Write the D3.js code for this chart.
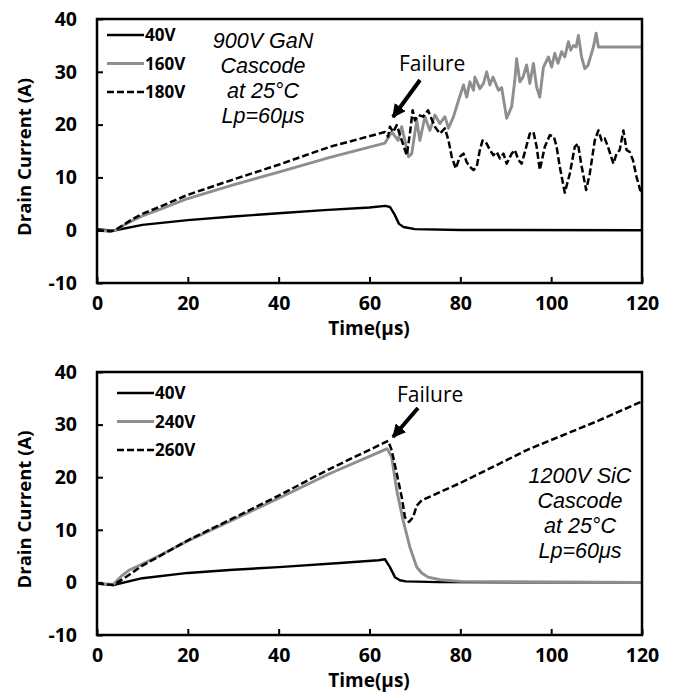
<!DOCTYPE html>
<html>
<head>
<meta charset="utf-8">
<script src="https://cdn.jsdelivr.net/npm/d3@7"></script>
<style>
  body { margin: 0; background: #fff; }
  svg { display: block; }
</style>
</head>
<body>
<div id="canvas"></div>
<script>
// time (µs) / drain current (A) pairs
const gan40V = [[0,0.2],[3.5,-0.1],[10,1.0],[20,1.9],[30,2.6],[40,3.2],[50,3.8],[60,4.3],[63.5,4.6],
  [64.5,4.4],[65.5,3.0],[66.5,1.2],[67.5,0.6],[70,0.2],[80,0.05],[120,0]];
const gan160V = [[0,0],[3,-0.2],[4,0],[6,1.0],[8,1.9],[10,2.7],[14,4.0],[20,6.0],[30,8.6],[40,11.0],[51.3,13.8],
  [63.4,16.5],[64.9,18.6],[66.3,17.0],[67.1,19.6],[68.6,13.9],[69.3,14.5],[70.4,20.8],[71.1,17],[72.2,21.5],
  [73.3,18.9],[74.4,21.8],[75.5,20.2],[76.6,21.5],[77.4,19.3],[78.5,21.5],[79.6,24.6],[80.7,27.5],[81.4,25.2],
  [82.1,28.1],[82.9,26.5],[83.2,29.0],[84.3,26.8],[85.1,27.8],[85.8,30.0],[86.5,27.5],[87.2,29.0],[88.4,26.5],
  [89.1,27.0],[90.2,21.2],[91.3,23.4],[92.0,28.4],[92.4,32.5],[93.1,28.1],[93.8,29.0],[94.6,31.3],[95.3,27.8],
  [96.1,31.6],[96.8,27.1],[97.5,25.2],[98.3,30.9],[99.4,32.8],[100.1,30.9],[100.8,33.5],[101.5,31.6],[102.3,33.8],
  [103.0,32.8],[103.8,35.7],[104.3,34.1],[104.9,35.0],[105.5,34.7],[106.0,36.9],[106.7,32.8],[107.4,30.6],
  [108.1,31.2],[109.3,34.7],[109.9,37.3],[110.4,34.7],[120,34.7]];
const gan180V = [[0,0],[3,-0.2],[4,0],[6,1.1],[8,2.2],[10,3.1],[14,4.5],[20,6.7],[30,9.6],[40,12.4],[51.3,15.8],
  [63.4,18.6],[64.1,17.7],[64.5,19.6],[65.2,18.6],[66.0,19.9],[67.1,17],[68.2,14.2],[68.9,18.3],[69.5,22.7],
  [70.0,20.8],[70.8,21.8],[71.8,21.5],[72.9,22.7],[73.6,21.2],[74.4,19.6],[75.5,18.3],[76.6,19.3],[77.4,17],
  [78.1,13.9],[79.0,11.7],[79.9,13.9],[80.7,14.5],[81.4,12.9],[82.1,12.0],[82.9,11.4],[83.6,12.0],[84.3,15.2],
  [84.9,17],[85.8,16.4],[86.5,15.2],[87.3,14.2],[88.0,14.8],[88.7,13.6],[89.5,14.5],[90.2,12.6],[91.3,14.5],
  [92.0,15.2],[92.8,13.3],[93.5,12.6],[94.2,14.8],[95.3,18.3],[96.1,18.6],[96.8,15.8],[97.5,11.4],[98.6,15.8],
  [99.7,18],[100.6,17.7],[101.2,15.8],[101.9,12],[103.0,7.1],[104.1,10.7],[105.2,15.8],[105.9,16.4],[106.6,12.6],
  [107.7,7.6],[108.5,10.7],[109.6,17],[110.4,18.9],[111.1,17],[111.8,17.4],[112.5,15.8],[113.7,12.6],[114.4,14.5],
  [115.1,15.2],[115.9,18.9],[116.6,15.2],[117.3,14.8],[118.0,13.3],[118.8,10.1],[119.6,7.6],[120,7.3]];

const sic40V = [[0,-0.2],[3.6,-0.5],[10,0.8],[20,1.8],[30,2.4],[40,2.9],[53.5,3.7],[62,4.2],[63.4,4.4],
  [64.5,2.9],[65.6,1.0],[66.7,0.4],[68,0.2],[75,0.05],[120,0]];
const sic240V = [[0,-0.2],[3.6,-0.4],[5.5,1.3],[7,2.3],[10,3.5],[14,5.2],[20,7.9],[30,11.9],[40,16.0],[51.3,20.7],
  [63.8,25.4],[64.1,25.1],[64.9,23.8],[66.0,17.5],[67.4,11.8],[68.9,6.7],[70.4,2.9],[71.5,1.8],[72.9,1.0],
  [75.5,0.5],[80,0.2],[120,0]];
const sic260V = [[0,-0.2],[3.6,-0.5],[6,0.8],[8,2.0],[10,3.2],[14,5.1],[20,8.0],[30,12.2],[40,16.5],[51.3,21.6],
  [64.1,26.9],[64.9,25.1],[66.0,20.7],[67.1,16.2],[67.8,12.4],[68.7,11.5],[69.6,12.4],[70.4,14.6],[71.5,15.6],
  [80,18.9],[95,25.3],[110,30.6],[120,34.4]];

const xTicks = [0, 20, 40, 60, 80, 100, 120];
const yTicks = [-10, 0, 10, 20, 30, 40];

const ganLegend = ["40V", "160V", "180V"];
const sicLegend = ["40V", "240V", "260V"];
const ganNote = ["900V GaN", "Cascode", "at 25°C", "Lp=60μs"];
const sicNote = ["1200V SiC", "Cascode", "at 25°C", "Lp=60μs"];

const styles = [
  { stroke: "#000", width: 2.4, dash: null },
  { stroke: "#8e8e8e", width: 2.9, dash: null },
  { stroke: "#000", width: 2.5, dash: "7,3" }
];

const svg = d3.select("#canvas").append("svg").attr("width", 674).attr("height", 698);

svg.append("defs").append("marker")
  .attr("id", "head")
  .attr("viewBox", "0 0 10 10")
  .attr("refX", 9).attr("refY", 5)
  .attr("markerWidth", 3.4).attr("markerHeight", 3.4)
  .attr("markerUnits", "strokeWidth")
  .attr("orient", "auto")
  .append("path").attr("d", "M0,0L10,5L0,10z").attr("fill", "#000");

const x = d3.scaleLinear().domain([0, 120]).range([97, 642]);

function panel(top, bottom, series, legend, legendX, legendY, note, noteX, noteY, failX, failY, arrow) {
  const y = d3.scaleLinear().domain([-10, 40]).range([bottom, top]);
  const g = svg.append("g");

  const line = d3.line().x(d => x(d[0])).y(d => y(d[1]));
  series.forEach((s, i) => {
    g.append("path")
      .attr("d", line(s))
      .attr("fill", "none")
      .attr("stroke", styles[i].stroke)
      .attr("stroke-width", styles[i].width)
      .attr("stroke-dasharray", styles[i].dash)
      .attr("stroke-linejoin", "round");
  });

  const xAxis = g.append("g")
    .attr("transform", `translate(0,${bottom})`)
    .call(d3.axisBottom(x).tickValues(xTicks).tickFormat(d => String(d))
      .tickSizeInner(-6).tickSizeOuter(0).tickPadding(23));
  const yAxis = g.append("g")
    .attr("transform", `translate(97,0)`)
    .call(d3.axisLeft(y).tickValues(yTicks).tickFormat(d => String(d))
      .tickSizeInner(-6).tickSizeOuter(0).tickPadding(20));
  [xAxis, yAxis].forEach(a => {
    a.select(".domain").remove();
    a.selectAll("line").attr("stroke", "#000").attr("stroke-width", 2);
    a.selectAll("text")
      .attr("fill", "#000")
      .style("font-family", "'Open Sans', sans-serif")
      .style("font-weight", "bold")
      .style("font-size", "19.5px");
  });
  xAxis.selectAll("text").attr("dy", "0.2em");

  g.append("rect")
    .attr("x", 97).attr("y", top)
    .attr("width", 642 - 97).attr("height", bottom - top)
    .attr("fill", "none").attr("stroke", "#000").attr("stroke-width", 2.5);

  g.append("text")
    .attr("x", 369).attr("y", bottom + 52)
    .attr("text-anchor", "middle")
    .style("font-family", "'Open Sans', sans-serif")
    .style("font-weight", "bold").style("font-size", "19px")
    .text("Time(μs)");

  g.append("text")
    .attr("transform", `translate(31,${(top + bottom) / 2 + 6}) rotate(-90)`)
    .attr("text-anchor", "middle")
    .style("font-family", "'Open Sans', sans-serif")
    .style("font-weight", "bold").style("font-size", "18.5px")
    .text("Drain Current (A)");

  legend.forEach((name, i) => {
    const ly = legendY + i * 28.5;
    g.append("line")
      .attr("x1", legendX).attr("x2", legendX + 37)
      .attr("y1", ly).attr("y2", ly)
      .attr("stroke", styles[i].stroke)
      .attr("stroke-width", styles[i].width)
      .attr("stroke-dasharray", styles[i].dash);
    g.append("text")
      .attr("x", legendX + 38).attr("y", ly + 6)
      .style("font-family", "'Open Sans', sans-serif")
      .style("font-weight", "bold").style("font-size", "17px")
      .text(name);
  });

  note.forEach((t, i) => {
    g.append("text")
      .attr("x", noteX).attr("y", noteY + i * 25)
      .attr("text-anchor", "middle")
      .style("font-family", "'Liberation Sans', Arial, sans-serif")
      .style("font-style", "italic").style("font-size", "21.5px")
      .text(t);
  });

  g.append("text")
    .attr("x", failX).attr("y", failY)
    .style("font-family", "'Open Sans', sans-serif")
    .style("font-size", "21px")
    .text("Failure");

  g.append("line")
    .attr("x1", arrow[0]).attr("y1", arrow[1])
    .attr("x2", arrow[2]).attr("y2", arrow[3])
    .attr("stroke", "#000").attr("stroke-width", 4)
    .attr("marker-end", "url(#head)");
}

panel(19, 283, [gan40V, gan160V, gan180V], ganLegend, 107, 35, ganNote, 263, 48, 399, 71, [420, 80, 393, 117]);
panel(372, 635, [sic40V, sic240V, sic260V], sicLegend, 117, 393, sicNote, 580, 483, 397, 402, [418, 408, 393, 437]);
</script>
</body>
</html>
